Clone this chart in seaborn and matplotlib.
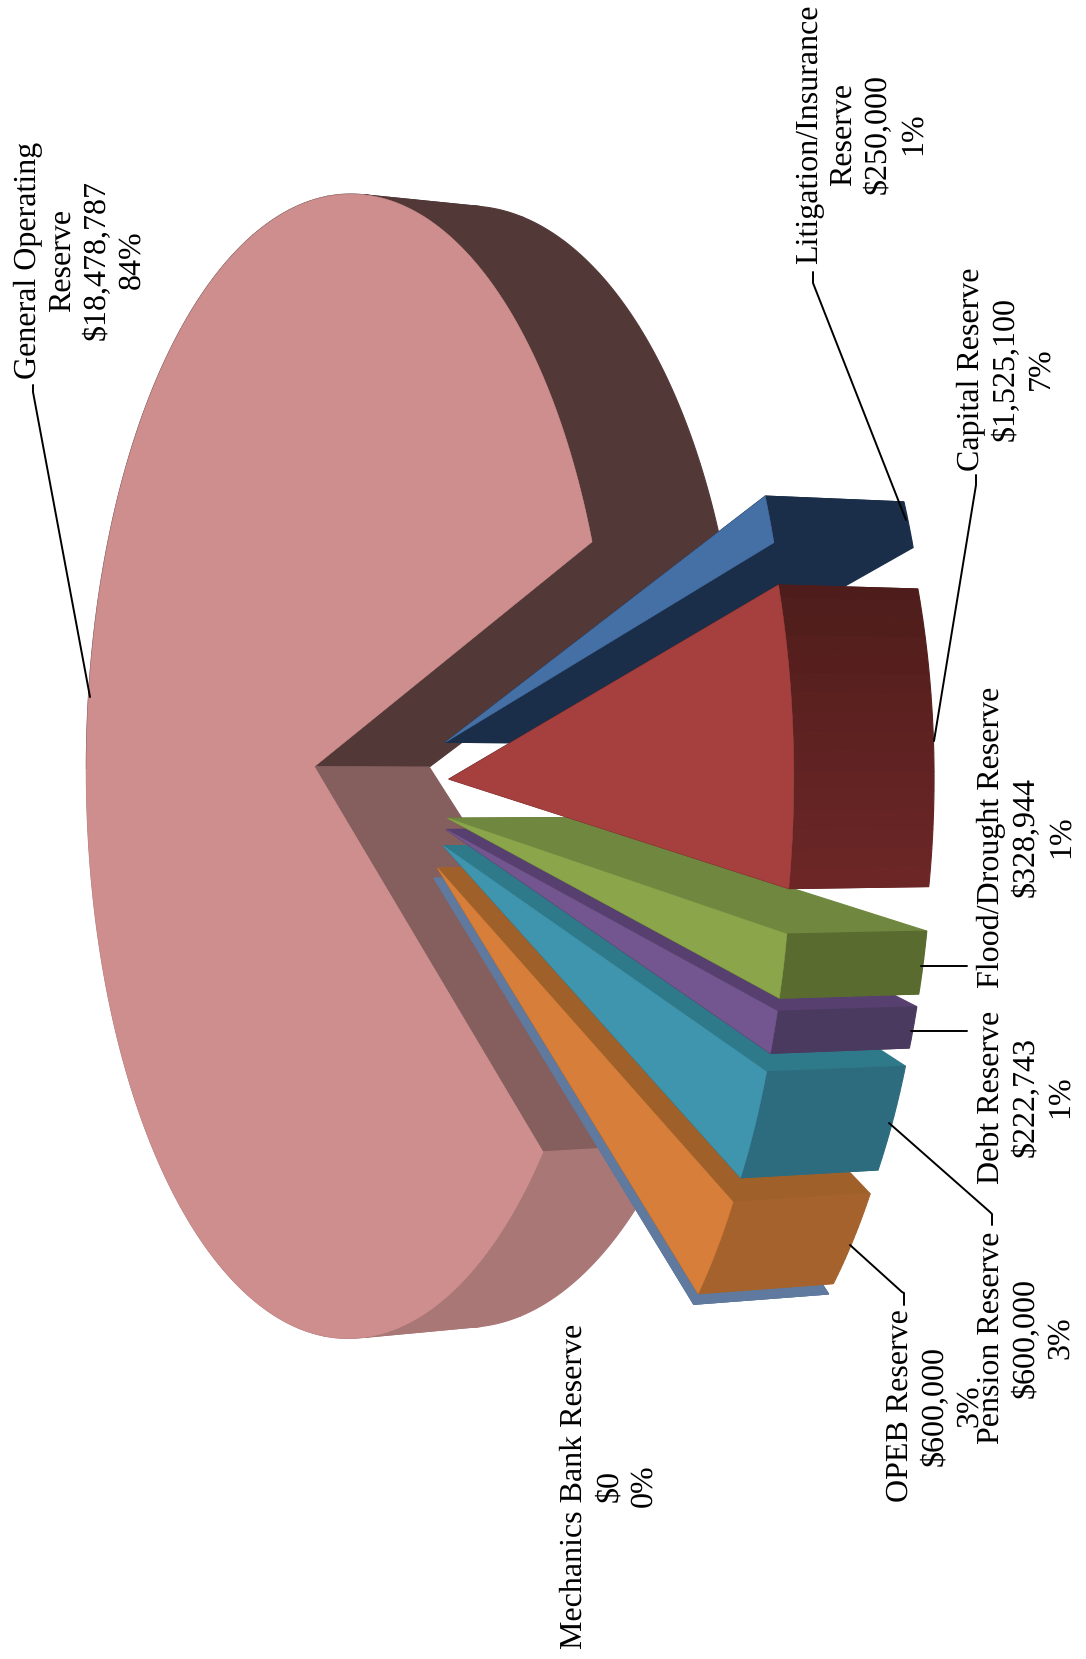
import numpy as np
import seaborn as sns
import matplotlib.pyplot as plt

# reserve funds, going round the pie from the gap
names = ["Litigation/Insurance\nReserve", "Capital Reserve", "Flood/Drought Reserve", "Debt Reserve",
         "Pension Reserve", "OPEB Reserve", "Mechanics Bank Reserve", "General Operating\nReserve"]
amounts = [250000, 1525100, 328944, 222743, 600000, 600000, 0, 18478787]

top_colors = ["#4570A6", "#A5403E", "#8BA54B", "#73568F", "#3F95AE", "#D67E3A", "#5F7A9E", "#CF8E8E"]
start_colors = ["#1A2E4A", "#4E1D1B", "#6F873F", "#57406F", "#2F7A8A", "#A0602A", "#5F7A9E", "#855E5E"]
end_colors = ["#1A2E4A", "#6C2626", "#5A6B30", "#4B3A60", "#2D6C7E", "#A5622C", "#5F7A9E", "#533838"]
arc_first = ["#1A2E4A", "#4E1D1B", "#5A6B30", "#4B3A60", "#2D6C7E", "#A5622C", "#5F7A9E", "#A97775"]
arc_last = ["#1A2E4A", "#6C2626", "#5A6B30", "#4B3A60", "#2D6C7E", "#A5622C", "#5F7A9E", "#533838"]

draw_order = [7, 6, 5, 4, 3, 2, 0, 1]
start_angle = -20.0
explode = 0.245

# pie is seen in perspective, near side towards the right
x0, y0, rx, ry, persp = 379.0, 788.0, 276.0, 586.0, 0.138

label_pos = [(861, 134), (1006, 369), (1026, 837), (1026, 1097), (1026, 1338), (935, 1406), (609, 1486), (80, 260)]
leaders = [[(813, 272), (813, 283), (906, 520)],
           [(976, 475), (976, 485), (934, 741)],
           [(967, 966), (921, 966)],
           [(967, 1031), (911, 1031)],
           [(992, 1225), (992, 1214), (990, 1212), (889, 1123)],
           [(904, 1305), (904, 1293), (902, 1292), (850, 1245)],
           [(33, 385), (33, 392), (90, 697)]]


def project(X, Y):
    d = 1 - persp * X
    return x0 + rx * X / d, y0 + ry * Y / d


def drop(x, y):
    # same point on the lower face of the pie
    return x + 115 + 0.053 * (x - 316), y0 + (y - y0) * 0.98


def wall(ax, xs, ys, color):
    lx, ly = drop(np.asarray(xs), np.asarray(ys))
    ax.fill(np.r_[xs, lx[::-1]], np.r_[ys, ly[::-1]], color=color, lw=0.8, zorder=2)


def draw_slice(ax, i, a0, a1):
    mid = np.radians((a0 + a1) / 2)
    ox, oy = explode * np.cos(mid), explode * np.sin(mid)
    phi = np.radians(np.linspace(a0, a1, max(int(a1 - a0) * 2, 2)))
    ex, ey = project(ox + np.cos(phi), oy + np.sin(phi))
    tip = project(ox, oy)

    # radial walls first, the rim over them, the top face last
    wall(ax, [tip[0], ex[-1]], [tip[1], ey[-1]], end_colors[i])
    wall(ax, [tip[0], ex[0]], [tip[1], ey[0]], start_colors[i])
    n = 36 if i == 7 else 16
    shades = sns.blend_palette([arc_first[i], arc_last[i]], n)
    steps = np.linspace(0, len(phi) - 1, n + 1).astype(int)
    for j in range(n):
        s = slice(steps[j], steps[j + 1] + 1)
        if len(ex[s]) > 1:
            if i == 7:
                c = arc_first[i] if np.sin(phi[steps[j]]) > 0 else arc_last[i]
            else:
                c = shades[j]
            wall(ax, ex[s], ey[s], c)
    ax.fill(np.r_[tip[0], ex], np.r_[tip[1], ey], color=top_colors[i], lw=0.4, zorder=2)


sns.set_theme(style="white")
plt.rcParams["font.family"] = ["Liberation Serif", "DejaVu Serif"]
plt.rcParams["text.hinting"] = "no_hinting"
plt.rcParams["text.hinting_factor"] = 1

fig = plt.figure(figsize=(10.86, 16.59), dpi=100)
ax = fig.add_axes([0, 0, 1, 1])
ax.set_xlim(0, 1086)
ax.set_ylim(1659, 0)
ax.axis("off")

total = sum(amounts)
spans = [v / total * 360 for v in amounts]
edges = start_angle + np.r_[0, np.cumsum(spans)]

for i in draw_order:
    draw_slice(ax, i, edges[i], edges[i + 1])

for line in leaders:
    ax.plot([p[0] for p in line], [p[1] for p in line], color="black", lw=1.4, zorder=3)

for i, name in enumerate(names):
    text = f"{name}\n${amounts[i]:,.0f}\n{round(amounts[i] / total * 100)}%"
    ax.text(label_pos[i][0], label_pos[i][1], text, rotation=90, ha="center", va="center",
            multialignment="center", fontsize=22.8, linespacing=1.25, color="black", zorder=4)

fig.savefig("out.png", dpi=100)
